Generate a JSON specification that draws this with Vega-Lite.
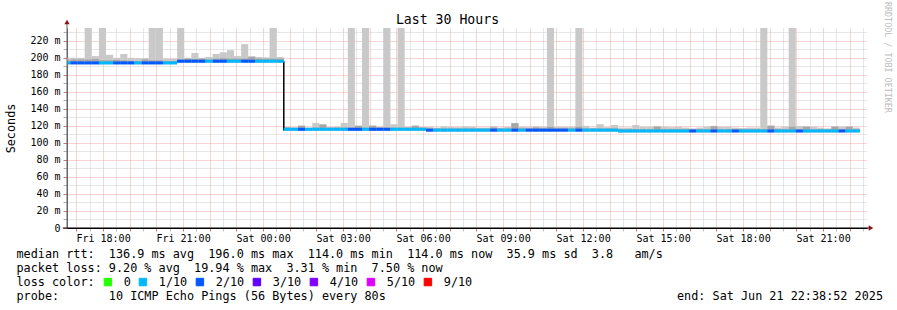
{
  "$schema": "https://vega.github.io/schema/vega-lite/v6.json",
  "width": 800,
  "height": 200,
  "autosize": {"type": "none"},
  "padding": {"left": 67, "top": 28, "right": 30, "bottom": 82},
  "background": "white",
  "config": {"view": {"stroke": null}},
  "datasets": {
    "smoke": [
      {"t":"2025-06-20T16:30:40","t2":"2025-06-20T16:46:40","med":194,"loss":"1/10","lo":192.5,"dk":197,"hi":200},
      {"t":"2025-06-20T16:46:40","t2":"2025-06-20T17:02:40","med":194,"loss":"2/10","lo":192.5,"dk":198,"hi":200},
      {"t":"2025-06-20T17:02:40","t2":"2025-06-20T17:18:40","med":194,"loss":"2/10","lo":192.5,"dk":198,"hi":200},
      {"t":"2025-06-20T17:18:40","t2":"2025-06-20T17:34:40","med":194,"loss":"2/10","lo":192.5,"dk":198,"hi":235},
      {"t":"2025-06-20T17:34:40","t2":"2025-06-20T17:50:40","med":194,"loss":"2/10","lo":192.5,"dk":198.5,"hi":202},
      {"t":"2025-06-20T17:50:40","t2":"2025-06-20T18:06:40","med":194,"loss":"1/10","lo":192.5,"dk":197,"hi":235},
      {"t":"2025-06-20T18:06:40","t2":"2025-06-20T18:22:40","med":194,"loss":"1/10","lo":192.5,"dk":197,"hi":203.5},
      {"t":"2025-06-20T18:22:40","t2":"2025-06-20T18:38:40","med":194,"loss":"2/10","lo":192.5,"dk":197.5,"hi":200},
      {"t":"2025-06-20T18:38:40","t2":"2025-06-20T18:54:40","med":194,"loss":"2/10","lo":192.5,"dk":197,"hi":204.5},
      {"t":"2025-06-20T18:54:40","t2":"2025-06-20T19:10:40","med":194,"loss":"2/10","lo":192.5,"dk":196.5,"hi":200},
      {"t":"2025-06-20T19:10:40","t2":"2025-06-20T19:26:40","med":194,"loss":"1/10","lo":192.5,"dk":196,"hi":199.5},
      {"t":"2025-06-20T19:26:40","t2":"2025-06-20T19:42:40","med":194,"loss":"2/10","lo":192.5,"dk":198,"hi":199.5},
      {"t":"2025-06-20T19:42:40","t2":"2025-06-20T19:58:40","med":194,"loss":"2/10","lo":192.5,"dk":197,"hi":235},
      {"t":"2025-06-20T19:58:40","t2":"2025-06-20T20:14:40","med":194,"loss":"2/10","lo":192.5,"dk":197,"hi":235},
      {"t":"2025-06-20T20:14:40","t2":"2025-06-20T20:30:40","med":194,"loss":"1/10","lo":192.5,"dk":196,"hi":199},
      {"t":"2025-06-20T20:30:40","t2":"2025-06-20T20:46:40","med":194,"loss":"1/10","lo":192.5,"dk":196,"hi":199},
      {"t":"2025-06-20T20:46:40","t2":"2025-06-20T21:02:40","med":196,"loss":"2/10","lo":194.5,"dk":198,"hi":235},
      {"t":"2025-06-20T21:02:40","t2":"2025-06-20T21:18:40","med":196,"loss":"2/10","lo":194.5,"dk":199,"hi":200},
      {"t":"2025-06-20T21:18:40","t2":"2025-06-20T21:34:40","med":196,"loss":"2/10","lo":194.5,"dk":198.5,"hi":205.5},
      {"t":"2025-06-20T21:34:40","t2":"2025-06-20T21:50:40","med":196,"loss":"2/10","lo":194.5,"dk":199,"hi":200},
      {"t":"2025-06-20T21:50:40","t2":"2025-06-20T22:06:40","med":196,"loss":"1/10","lo":194.5,"dk":198,"hi":201},
      {"t":"2025-06-20T22:06:40","t2":"2025-06-20T22:22:40","med":196,"loss":"2/10","lo":194.5,"dk":199,"hi":204.5},
      {"t":"2025-06-20T22:22:40","t2":"2025-06-20T22:38:40","med":196,"loss":"2/10","lo":194.5,"dk":199.5,"hi":206.5},
      {"t":"2025-06-20T22:38:40","t2":"2025-06-20T22:54:40","med":196,"loss":"1/10","lo":194.5,"dk":199,"hi":209},
      {"t":"2025-06-20T22:54:40","t2":"2025-06-20T23:10:40","med":196,"loss":"1/10","lo":194.5,"dk":199,"hi":202},
      {"t":"2025-06-20T23:10:40","t2":"2025-06-20T23:26:40","med":196,"loss":"2/10","lo":194.5,"dk":199,"hi":216},
      {"t":"2025-06-20T23:26:40","t2":"2025-06-20T23:42:40","med":196,"loss":"2/10","lo":194.5,"dk":201,"hi":202},
      {"t":"2025-06-20T23:42:40","t2":"2025-06-20T23:58:40","med":196,"loss":"1/10","lo":194.5,"dk":199,"hi":201},
      {"t":"2025-06-20T23:58:40","t2":"2025-06-21T00:14:40","med":196,"loss":"1/10","lo":194.5,"dk":199,"hi":200.5},
      {"t":"2025-06-21T00:14:40","t2":"2025-06-21T00:30:40","med":196,"loss":"1/10","lo":194.5,"dk":199,"hi":235},
      {"t":"2025-06-21T00:30:40","t2":"2025-06-21T00:46:40","med":196,"loss":"1/10","lo":194.5,"dk":199,"hi":201},
      {"t":"2025-06-21T00:46:40","t2":"2025-06-21T01:02:40","med":116,"loss":"1/10","lo":114.5,"dk":118,"hi":119},
      {"t":"2025-06-21T01:02:40","t2":"2025-06-21T01:18:40","med":116,"loss":"1/10","lo":114.5,"dk":117.5,"hi":118.5},
      {"t":"2025-06-21T01:18:40","t2":"2025-06-21T01:34:40","med":116,"loss":"2/10","lo":114.5,"dk":120,"hi":120.5},
      {"t":"2025-06-21T01:34:40","t2":"2025-06-21T01:50:40","med":116,"loss":"1/10","lo":114.5,"dk":117.5,"hi":118},
      {"t":"2025-06-21T01:50:40","t2":"2025-06-21T02:06:40","med":116,"loss":"1/10","lo":114.5,"dk":118,"hi":123.5},
      {"t":"2025-06-21T02:06:40","t2":"2025-06-21T02:22:40","med":116,"loss":"1/10","lo":114.5,"dk":121.5,"hi":122},
      {"t":"2025-06-21T02:22:40","t2":"2025-06-21T02:38:40","med":116,"loss":"1/10","lo":114.5,"dk":118,"hi":118.5},
      {"t":"2025-06-21T02:38:40","t2":"2025-06-21T02:54:40","med":116,"loss":"1/10","lo":114.5,"dk":118,"hi":119},
      {"t":"2025-06-21T02:54:40","t2":"2025-06-21T03:10:40","med":116,"loss":"1/10","lo":114.5,"dk":118,"hi":123.5},
      {"t":"2025-06-21T03:10:40","t2":"2025-06-21T03:26:40","med":116,"loss":"2/10","lo":114.5,"dk":118,"hi":235},
      {"t":"2025-06-21T03:26:40","t2":"2025-06-21T03:42:40","med":116,"loss":"2/10","lo":114.5,"dk":120,"hi":120.5},
      {"t":"2025-06-21T03:42:40","t2":"2025-06-21T03:58:40","med":116,"loss":"1/10","lo":114.5,"dk":118,"hi":235},
      {"t":"2025-06-21T03:58:40","t2":"2025-06-21T04:14:40","med":116,"loss":"2/10","lo":114.5,"dk":120,"hi":120.5},
      {"t":"2025-06-21T04:14:40","t2":"2025-06-21T04:30:40","med":116,"loss":"2/10","lo":114.5,"dk":118,"hi":119},
      {"t":"2025-06-21T04:30:40","t2":"2025-06-21T04:46:40","med":116,"loss":"2/10","lo":114.5,"dk":118,"hi":235},
      {"t":"2025-06-21T04:46:40","t2":"2025-06-21T05:02:40","med":116,"loss":"1/10","lo":114.5,"dk":118,"hi":122},
      {"t":"2025-06-21T05:02:40","t2":"2025-06-21T05:18:40","med":116,"loss":"1/10","lo":114.5,"dk":118,"hi":235},
      {"t":"2025-06-21T05:18:40","t2":"2025-06-21T05:34:40","med":116,"loss":"1/10","lo":114.5,"dk":118,"hi":119},
      {"t":"2025-06-21T05:34:40","t2":"2025-06-21T05:50:40","med":116,"loss":"1/10","lo":114.5,"dk":120,"hi":120.5},
      {"t":"2025-06-21T05:50:40","t2":"2025-06-21T06:06:40","med":116,"loss":"1/10","lo":114.5,"dk":118,"hi":118.5},
      {"t":"2025-06-21T06:06:40","t2":"2025-06-21T06:22:40","med":115,"loss":"2/10","lo":113.5,"dk":117,"hi":119},
      {"t":"2025-06-21T06:22:40","t2":"2025-06-21T06:38:40","med":115,"loss":"1/10","lo":113.5,"dk":117,"hi":118},
      {"t":"2025-06-21T06:38:40","t2":"2025-06-21T06:54:40","med":115,"loss":"1/10","lo":113.5,"dk":117,"hi":119.5},
      {"t":"2025-06-21T06:54:40","t2":"2025-06-21T07:10:40","med":115,"loss":"1/10","lo":113.5,"dk":117,"hi":119},
      {"t":"2025-06-21T07:10:40","t2":"2025-06-21T07:26:40","med":115,"loss":"1/10","lo":113.5,"dk":117,"hi":118.5},
      {"t":"2025-06-21T07:26:40","t2":"2025-06-21T07:42:40","med":115,"loss":"1/10","lo":113.5,"dk":117,"hi":119.5},
      {"t":"2025-06-21T07:42:40","t2":"2025-06-21T07:58:40","med":115,"loss":"1/10","lo":113.5,"dk":117,"hi":119},
      {"t":"2025-06-21T07:58:40","t2":"2025-06-21T08:14:40","med":115,"loss":"1/10","lo":113.5,"dk":117,"hi":118},
      {"t":"2025-06-21T08:14:40","t2":"2025-06-21T08:30:40","med":115,"loss":"1/10","lo":113.5,"dk":117,"hi":118},
      {"t":"2025-06-21T08:30:40","t2":"2025-06-21T08:46:40","med":115,"loss":"2/10","lo":113.5,"dk":118,"hi":119.5},
      {"t":"2025-06-21T08:46:40","t2":"2025-06-21T09:02:40","med":115,"loss":"1/10","lo":113.5,"dk":117,"hi":118},
      {"t":"2025-06-21T09:02:40","t2":"2025-06-21T09:18:40","med":115,"loss":"1/10","lo":113.5,"dk":117,"hi":119},
      {"t":"2025-06-21T09:18:40","t2":"2025-06-21T09:34:40","med":115,"loss":"2/10","lo":113.5,"dk":123,"hi":123.5},
      {"t":"2025-06-21T09:34:40","t2":"2025-06-21T09:50:40","med":115,"loss":"1/10","lo":113.5,"dk":117,"hi":119},
      {"t":"2025-06-21T09:50:40","t2":"2025-06-21T10:06:40","med":115,"loss":"2/10","lo":113.5,"dk":117,"hi":118.5},
      {"t":"2025-06-21T10:06:40","t2":"2025-06-21T10:22:40","med":115,"loss":"2/10","lo":113.5,"dk":118,"hi":119.5},
      {"t":"2025-06-21T10:22:40","t2":"2025-06-21T10:38:40","med":115,"loss":"2/10","lo":113.5,"dk":117,"hi":119},
      {"t":"2025-06-21T10:38:40","t2":"2025-06-21T10:54:40","med":115,"loss":"2/10","lo":113.5,"dk":119,"hi":235},
      {"t":"2025-06-21T10:54:40","t2":"2025-06-21T11:10:40","med":115,"loss":"2/10","lo":113.5,"dk":117,"hi":119},
      {"t":"2025-06-21T11:10:40","t2":"2025-06-21T11:26:40","med":115,"loss":"2/10","lo":113.5,"dk":117,"hi":119},
      {"t":"2025-06-21T11:26:40","t2":"2025-06-21T11:42:40","med":115,"loss":"1/10","lo":113.5,"dk":117,"hi":119},
      {"t":"2025-06-21T11:42:40","t2":"2025-06-21T11:58:40","med":115,"loss":"2/10","lo":113.5,"dk":119,"hi":235},
      {"t":"2025-06-21T11:58:40","t2":"2025-06-21T12:14:40","med":115,"loss":"1/10","lo":113.5,"dk":117,"hi":120},
      {"t":"2025-06-21T12:14:40","t2":"2025-06-21T12:30:40","med":115,"loss":"1/10","lo":113.5,"dk":117,"hi":118},
      {"t":"2025-06-21T12:30:40","t2":"2025-06-21T12:46:40","med":115,"loss":"1/10","lo":113.5,"dk":117,"hi":122},
      {"t":"2025-06-21T12:46:40","t2":"2025-06-21T13:02:40","med":115,"loss":"1/10","lo":113.5,"dk":117,"hi":118.5},
      {"t":"2025-06-21T13:02:40","t2":"2025-06-21T13:18:40","med":115,"loss":"1/10","lo":113.5,"dk":117,"hi":121},
      {"t":"2025-06-21T13:18:40","t2":"2025-06-21T13:34:40","med":114,"loss":"1/10","lo":112.5,"dk":116,"hi":118},
      {"t":"2025-06-21T13:34:40","t2":"2025-06-21T13:50:40","med":114,"loss":"1/10","lo":112.5,"dk":116,"hi":118},
      {"t":"2025-06-21T13:50:40","t2":"2025-06-21T14:06:40","med":114,"loss":"1/10","lo":112.5,"dk":116,"hi":121},
      {"t":"2025-06-21T14:06:40","t2":"2025-06-21T14:22:40","med":114,"loss":"1/10","lo":112.5,"dk":116,"hi":119},
      {"t":"2025-06-21T14:22:40","t2":"2025-06-21T14:38:40","med":114,"loss":"1/10","lo":112.5,"dk":116,"hi":119},
      {"t":"2025-06-21T14:38:40","t2":"2025-06-21T14:54:40","med":114,"loss":"1/10","lo":112.5,"dk":119,"hi":120},
      {"t":"2025-06-21T14:54:40","t2":"2025-06-21T15:10:40","med":114,"loss":"1/10","lo":112.5,"dk":116,"hi":119},
      {"t":"2025-06-21T15:10:40","t2":"2025-06-21T15:26:40","med":114,"loss":"1/10","lo":112.5,"dk":116,"hi":118.5},
      {"t":"2025-06-21T15:26:40","t2":"2025-06-21T15:42:40","med":114,"loss":"1/10","lo":112.5,"dk":116,"hi":119},
      {"t":"2025-06-21T15:42:40","t2":"2025-06-21T15:58:40","med":114,"loss":"1/10","lo":112.5,"dk":116,"hi":118},
      {"t":"2025-06-21T15:58:40","t2":"2025-06-21T16:14:40","med":114,"loss":"2/10","lo":112.5,"dk":116,"hi":117},
      {"t":"2025-06-21T16:14:40","t2":"2025-06-21T16:30:40","med":114,"loss":"1/10","lo":112.5,"dk":116,"hi":118},
      {"t":"2025-06-21T16:30:40","t2":"2025-06-21T16:46:40","med":114,"loss":"1/10","lo":112.5,"dk":116,"hi":119},
      {"t":"2025-06-21T16:46:40","t2":"2025-06-21T17:02:40","med":114,"loss":"2/10","lo":112.5,"dk":119.5,"hi":120},
      {"t":"2025-06-21T17:02:40","t2":"2025-06-21T17:18:40","med":114,"loss":"1/10","lo":112.5,"dk":116,"hi":119},
      {"t":"2025-06-21T17:18:40","t2":"2025-06-21T17:34:40","med":114,"loss":"1/10","lo":112.5,"dk":116,"hi":119},
      {"t":"2025-06-21T17:34:40","t2":"2025-06-21T17:50:40","med":114,"loss":"2/10","lo":112.5,"dk":116,"hi":118},
      {"t":"2025-06-21T17:50:40","t2":"2025-06-21T18:06:40","med":114,"loss":"1/10","lo":112.5,"dk":116,"hi":117.5},
      {"t":"2025-06-21T18:06:40","t2":"2025-06-21T18:22:40","med":114,"loss":"1/10","lo":112.5,"dk":116,"hi":118},
      {"t":"2025-06-21T18:22:40","t2":"2025-06-21T18:38:40","med":114,"loss":"1/10","lo":112.5,"dk":116,"hi":118},
      {"t":"2025-06-21T18:38:40","t2":"2025-06-21T18:54:40","med":114,"loss":"1/10","lo":112.5,"dk":116,"hi":235},
      {"t":"2025-06-21T18:54:40","t2":"2025-06-21T19:10:40","med":114,"loss":"2/10","lo":112.5,"dk":120,"hi":120.5},
      {"t":"2025-06-21T19:10:40","t2":"2025-06-21T19:26:40","med":114,"loss":"1/10","lo":112.5,"dk":116,"hi":118},
      {"t":"2025-06-21T19:26:40","t2":"2025-06-21T19:42:40","med":114,"loss":"1/10","lo":112.5,"dk":116,"hi":119},
      {"t":"2025-06-21T19:42:40","t2":"2025-06-21T19:58:40","med":114,"loss":"1/10","lo":112.5,"dk":119,"hi":235},
      {"t":"2025-06-21T19:58:40","t2":"2025-06-21T20:14:40","med":114,"loss":"2/10","lo":112.5,"dk":116,"hi":120},
      {"t":"2025-06-21T20:14:40","t2":"2025-06-21T20:30:40","med":114,"loss":"1/10","lo":112.5,"dk":119,"hi":119.5},
      {"t":"2025-06-21T20:30:40","t2":"2025-06-21T20:46:40","med":114,"loss":"1/10","lo":112.5,"dk":116,"hi":119},
      {"t":"2025-06-21T20:46:40","t2":"2025-06-21T21:02:40","med":114,"loss":"1/10","lo":112.5,"dk":116,"hi":118},
      {"t":"2025-06-21T21:02:40","t2":"2025-06-21T21:18:40","med":114,"loss":"1/10","lo":112.5,"dk":116,"hi":117},
      {"t":"2025-06-21T21:18:40","t2":"2025-06-21T21:34:40","med":114,"loss":"1/10","lo":112.5,"dk":119,"hi":119.5},
      {"t":"2025-06-21T21:34:40","t2":"2025-06-21T21:50:40","med":114,"loss":"2/10","lo":112.5,"dk":116,"hi":119},
      {"t":"2025-06-21T21:50:40","t2":"2025-06-21T22:06:40","med":114,"loss":"1/10","lo":112.5,"dk":119,"hi":119.5},
      {"t":"2025-06-21T22:06:40","t2":"2025-06-21T22:22:40","med":114,"loss":"1/10","lo":112.5,"dk":116,"hi":118}
    ],
    "step": [
      {"t": "2025-06-21T00:46:40", "y1": 196, "y2": 114.5}
    ],
    "heading": [
      {"t": "2025-06-21T06:55:00", "v": 239.7, "label": "Last 30 Hours"}
    ],
    "credit": [
      {"t": "2025-06-21T23:25:30", "v": 200.4, "label": "RRDTOOL / TOBI OETIKER"}
    ],
    "yline": [
      {"t": "2025-06-20T16:38:52", "v": 0, "v2": 241}
    ],
    "xline": [
      {"t": "2025-06-20T16:29:30", "t2": "2025-06-21T22:46:00", "v": 0}
    ],
    "arrows": [
      {"t": "2025-06-20T16:38:52", "v": 242, "shape": "triangle-up"},
      {"t": "2025-06-21T22:47:52", "v": 0, "shape": "triangle-right"}
    ]
  },
  "layer": [
    {
      "data": {"name": "smoke"},
      "mark": {"type": "rect", "fill": "#c9c9c9", "clip": true},
      "encoding": {
        "x": {
          "field": "t", "type": "temporal",
          "scale": {"domain": [{"year": 2025, "month": 6, "date": 20, "hours": 16, "minutes": 38, "seconds": 52}, {"year": 2025, "month": 6, "date": 21, "hours": 22, "minutes": 38, "seconds": 52}]},
          "axis": {
            "tickCount": 60,
            "labelExpr": "(minutes(datum.value) == 0 && hours(datum.value) % 3 == 0) ? timeFormat(datum.value, '%a %H:%M') : ''",
            "labelOverlap": false, "labelFlush": false,
            "labelFont": "DejaVu Sans Mono", "labelFontSize": 10, "labelColor": "#000",
            "labelBaseline": "alphabetic", "labelPadding": 10.5,
            "tickSize": 3,
            "tickColor": {"condition": {"test": "minutes(datum.value) == 0", "value": "#e07070"}, "value": "#c0c0c0"},
            "grid": true,
            "gridColor": {"condition": {"test": "minutes(datum.value) == 0", "value": "#f2a8a8"}, "value": "#cfcfcf"},
            "gridDash": [1, 1],
            "domain": true, "domainColor": "#000000", "domainWidth": 1,
            "title": [
              "median rtt:\u00a0\u00a0136.9 ms avg\u00a0\u00a0196.0 ms max\u00a0\u00a0114.0 ms min\u00a0\u00a0114.0 ms now\u00a0\u00a035.9 ms sd\u00a0\u00a03.8\u00a0\u00a0\u00a0am/s",
              "packet loss: 9.20 % avg\u00a0\u00a019.94 % max\u00a0\u00a03.31 % min\u00a0\u00a07.50 % now",
              "loss color:",
              "probe:\u00a0\u00a0\u00a0\u00a0\u00a0\u00a0\u00a010 ICMP Echo Pings (56 Bytes) every 80s\u00a0\u00a0\u00a0\u00a0\u00a0\u00a0\u00a0\u00a0\u00a0\u00a0\u00a0\u00a0\u00a0\u00a0\u00a0\u00a0\u00a0\u00a0\u00a0\u00a0\u00a0\u00a0\u00a0\u00a0\u00a0\u00a0\u00a0\u00a0\u00a0\u00a0\u00a0\u00a0\u00a0\u00a0\u00a0\u00a0\u00a0\u00a0\u00a0\u00a0\u00a0end: Sat Jun 21 22:38:52 2025"
            ],
            "titleFont": "DejaVu Sans Mono", "titleFontSize": 11.8, "titleFontWeight": "normal", "titleColor": "#000",
            "titleAlign": "left", "titleBaseline": "alphabetic",
            "titleX": -51, "titleY": 29.5, "titleLineHeight": 14
          }
        },
        "x2": {"field": "t2"},
        "y": {
          "field": "lo", "type": "quantitative",
          "scale": {"domain": [0, 235], "nice": false, "zero": true},
          "axis": {
            "values": [0, 10, 20, 30, 40, 50, 60, 70, 80, 90, 100, 110, 120, 130, 140, 150, 160, 170, 180, 190, 200, 210, 220, 230],
            "tickCount": 100,
            "labelExpr": "datum.value % 20 == 0 ? (datum.value == 0 ? '0\u00a0\u00a0' : datum.value + ' m') : ''",
            "labelOverlap": false,
            "labelFont": "DejaVu Sans Mono", "labelFontSize": 10, "labelColor": "#000",
            "labelPadding": 3,
            "tickSize": 4,
            "tickColor": {"condition": {"test": "datum.value % 20 == 0", "value": "#e07070"}, "value": "#b0b0b0"},
            "grid": true,
            "gridColor": {"condition": {"test": "datum.value % 20 == 0", "value": "#f2a8a8"}, "value": "#cfcfcf"},
            "gridDash": [1, 1],
            "domain": true, "domainColor": "#666666", "domainWidth": 1,
            "title": "Seconds",
            "titleFont": "DejaVu Sans Mono", "titleFontSize": 11.8, "titleFontWeight": "normal", "titleColor": "#000",
            "titleX": -51, "titleY": 100
          }
        },
        "y2": {"field": "hi"}
      }
    },
    {
      "data": {"name": "smoke"},
      "mark": {"type": "rect", "fill": "#a6a6a6", "clip": true},
      "encoding": {
        "x": {"field": "t", "type": "temporal"},
        "x2": {"field": "t2"},
        "y": {"field": "lo", "type": "quantitative"},
        "y2": {"field": "dk"}
      }
    },
    {
      "data": {"name": "step"},
      "mark": {"type": "rule", "color": "#000", "strokeWidth": 1.5},
      "encoding": {
        "x": {"field": "t", "type": "temporal"},
        "y": {"field": "y1", "type": "quantitative"},
        "y2": {"field": "y2"}
      }
    },
    {
      "data": {"name": "smoke"},
      "mark": {"type": "rule", "strokeWidth": 3, "clip": true},
      "encoding": {
        "x": {"field": "t", "type": "temporal"},
        "x2": {"field": "t2"},
        "y": {"field": "med", "type": "quantitative"},
        "color": {
          "field": "loss", "type": "nominal",
          "scale": {"domain": ["0", "1/10", "2/10", "3/10", "4/10", "5/10", "9/10"], "range": ["#26ff00", "#00b8ff", "#0059ff", "#5e00ff", "#7e00ff", "#dd00ff", "#ff0000"]},
          "legend": {
            "title": null, "orient": "none", "legendX": 35, "legendY": 248, "direction": "horizontal",
            "symbolType": "square", "symbolSize": 56, "symbolStrokeWidth": 1,
            "labelFont": "DejaVu Sans Mono", "labelFontSize": 11.8, "labelColor": "#000", "labelOffset": 10,
            "columnPadding": 6,
            "encode": {"symbols": {"update": {"fill": {"scale": "color", "field": "value"}, "stroke": {"value": "#000000"}, "fillOpacity": {"value": 1}}}}
          }
        }
      }
    },
    {
      "data": {"name": "yline"},
      "mark": {"type": "rule", "color": "#666666", "strokeWidth": 1, "clip": false},
      "encoding": {
        "x": {"field": "t", "type": "temporal"},
        "y": {"field": "v", "type": "quantitative"},
        "y2": {"field": "v2"}
      }
    },
    {
      "data": {"name": "xline"},
      "mark": {"type": "rule", "color": "#000000", "strokeWidth": 1, "clip": false},
      "encoding": {
        "x": {"field": "t", "type": "temporal"},
        "x2": {"field": "t2"},
        "y": {"field": "v", "type": "quantitative"}
      }
    },
    {
      "data": {"name": "heading"},
      "mark": {"type": "text", "font": "DejaVu Sans Mono", "fontSize": 13.2, "color": "#000000", "align": "center", "baseline": "alphabetic", "clip": false},
      "encoding": {
        "x": {"field": "t", "type": "temporal"},
        "y": {"field": "v", "type": "quantitative"},
        "text": {"field": "label"}
      }
    },
    {
      "data": {"name": "credit"},
      "mark": {"type": "text", "font": "DejaVu Sans Mono", "fontSize": 8.4, "color": "#bdbdbd", "angle": 90, "align": "center", "baseline": "middle", "clip": false},
      "encoding": {
        "x": {"field": "t", "type": "temporal"},
        "y": {"field": "v", "type": "quantitative"},
        "text": {"field": "label"}
      }
    },
    {
      "data": {"name": "arrows"},
      "mark": {"type": "point", "filled": true, "size": 28, "color": "#8b1515", "opacity": 1, "clip": false},
      "encoding": {
        "x": {"field": "t", "type": "temporal"},
        "y": {"field": "v", "type": "quantitative"},
        "shape": {"field": "shape", "type": "nominal", "scale": null}
      }
    }
  ]
}
